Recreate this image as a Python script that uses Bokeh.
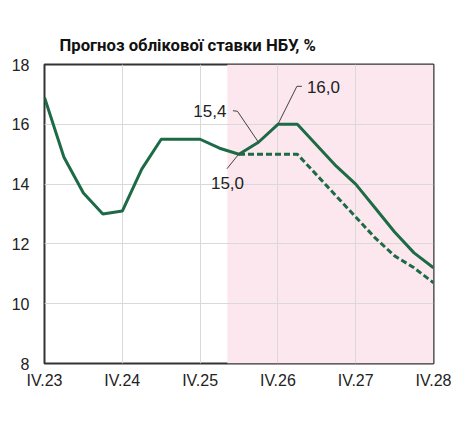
from bokeh.plotting import figure
from bokeh.models import Range1d, FixedTicker, BoxAnnotation
from bokeh.core.properties import value
from bokeh.embed import file_html
from bokeh.resources import INLINE

# ---- data ----
tick_pos = [0, 4, 8, 12, 16, 20]
tick_labels = ["IV.23", "IV.24", "IV.25", "IV.26", "IV.27", "IV.28"]
quarters = list(range(21))
baseline = [16.9, 14.9, 13.7, 13.0, 13.1, 14.5, 15.5, 15.5, 15.5, 15.2, 15.0,
            15.4, 16.0, 16.0, 15.3, 14.6, 14.0, 13.2, 12.4, 11.7, 11.2]
alt_q = list(range(10, 21))
alternative = [15.0, 15.0, 15.0, 15.0, 14.3, 13.6, 12.9, 12.2, 11.6, 11.2, 10.7]
forecast_start = 9.4
y_ticks = [8, 10, 12, 14, 16, 18]
title_text = "Прогноз облікової ставки НБУ, %"

# annotated points: (quarter index, label)
ann_idx = [11, 12, 10]
ann_txt = ["15,4", "16,0", "15,0"]

GREEN = "#1d6b46"
W, H = 476, 426
ML, MR, MT, MB = 44, 43, 64, 63
fw, fh = W - ML - MR, H - MT - MB
xmin, xmax, ymin, ymax = 0, 20, 8, 18
pxq = fw / (xmax - xmin)
pxu = fh / (ymax - ymin)

p = figure(width=W, height=H, output_backend="svg", toolbar_location=None,
           x_range=Range1d(xmin, xmax), y_range=Range1d(ymin, ymax),
           min_border_left=ML, min_border_right=MR,
           min_border_top=MT, min_border_bottom=MB,
           title=title_text)
p.title.text_font = "Roboto"
p.title.text_font_style = "bold"
p.title.text_font_size = "16.7px"
p.title.text_color = "#111111"
p.title.align = "left"
p.title.offset = 15
p.title.standoff = 20

p.outline_line_color = "#333333"
p.outline_line_width = 2
p.background_fill_color = "white"
p.border_fill_color = "white"

for ax in (p.xaxis[0], p.yaxis[0]):
    ax.axis_line_color = None
    ax.major_tick_line_color = None
    ax.minor_tick_line_color = None
    ax.major_tick_out = 0
    ax.major_tick_in = 0
    ax.minor_tick_out = 0
    ax.minor_tick_in = 0
    ax.major_label_text_font = "Liberation Sans"
    ax.major_label_text_font_size = "16px"
    ax.major_label_text_color = "#222222"

p.xaxis.ticker = FixedTicker(ticks=tick_pos)
p.xaxis.major_label_overrides = {t: l for t, l in zip(tick_pos, tick_labels)}
p.xaxis.major_label_standoff = 8
p.yaxis.ticker = FixedTicker(ticks=y_ticks)
p.yaxis.major_label_standoff = 15

p.grid.grid_line_color = "#d9d9d9"
p.grid.grid_line_width = 1
p.xgrid.ticker = FixedTicker(ticks=tick_pos)
p.ygrid.ticker = FixedTicker(ticks=y_ticks)

p.add_layout(BoxAnnotation(left=forecast_start, right=xmax, bottom=ymin, top=ymax,
                           fill_color="#fde7ef", fill_alpha=1, line_color=None,
                           level="image"))

p.line(alt_q, alternative, line_color=GREEN, line_width=3, line_dash="6 3")
p.line(quarters, baseline, line_color=GREEN, line_width=3)

# leader lines and labels, offsets in pixels relative to the data point
# (dx right, dy up)
leaders = {
    11: [(0, 0), (-21, 31), (-25.5, 31.5)],
    12: [(0, 0), (19, 38), (24, 38)],
    10: [(0.5, 1), (-12, -14.5)],
}
text_off = {11: (-32, 31, "right"), 12: (29, 37, "left"), 10: (-11.5, -29, "center")}

for i, t in zip(ann_idx, ann_txt):
    x0, y0 = quarters[i], baseline[i]
    pts = leaders[i]
    xs = [x0 + dx / pxq for dx, dy in pts]
    ys = [y0 + dy / pxu for dx, dy in pts]
    p.line(xs, ys, line_color="#404040", line_width=1)
    dx, dy, al = text_off[i]
    p.text(x=[x0 + dx / pxq], y=[y0 + dy / pxu], text=[t],
           text_font=value("Liberation Sans"), text_font_size="17px",
           text_color="#222222", text_align=al, text_baseline="middle")

open("out.html", "w").write(file_html(p, INLINE))
